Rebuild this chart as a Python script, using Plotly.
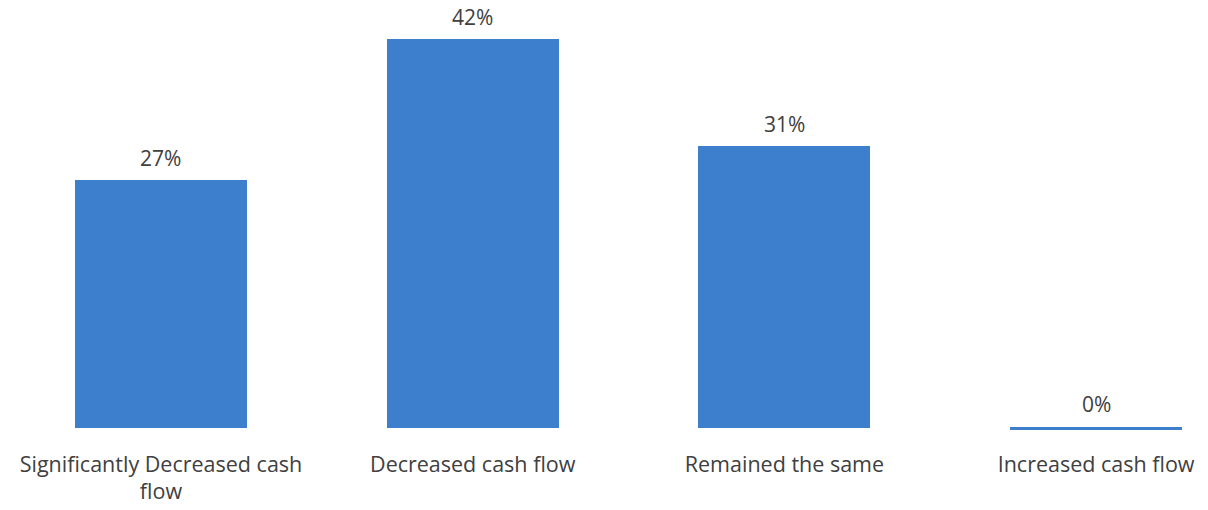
import plotly.graph_objects as go

categories = ["Significantly Decreased cash<br>flow", "Decreased cash flow", "Remained the same", "Increased cash flow"]
values = [26.9, 42.3, 30.6, 0.0]
labels = [f"{round(v):.0f}%" for v in values]

BAR_COLOR = "#3E7FCD"
TEXT_COLOR = "#404040"
FONT = "Open Sans"

fig = go.Figure()
fig.add_trace(go.Bar(
    x=list(range(len(categories))), y=values, width=0.552,
    marker=dict(color=BAR_COLOR, line=dict(width=0)),
    error_y=dict(type="data", array=[0] * len(values), visible=True,
                 color=BAR_COLOR, thickness=3, width=86),
    hoverinfo="skip", cliponaxis=False,
))

for i, (v, t) in enumerate(zip(values, labels)):
    fig.add_annotation(x=i, y=v, text=t, showarrow=False, yanchor="bottom",
                       yshift=8, font=dict(family=FONT, size=21, color=TEXT_COLOR))

fig.update_layout(
    width=1208, height=510,
    margin=dict(l=0, r=0, t=0, b=80),
    paper_bgcolor="white", plot_bgcolor="white",
    showlegend=False,
    bargap=0,
    xaxis=dict(range=[-0.5165, 3.359], tickmode="array", tickvals=list(range(len(categories))),
               ticktext=categories, showgrid=False, zeroline=False, showline=False,
               automargin=False, ticklabelstandoff=19,
               ticks="", tickfont=dict(family=FONT, size=21.5, color=TEXT_COLOR)),
    yaxis=dict(range=[-0.2175, 46.76], visible=False, showgrid=False, zeroline=False,
               automargin=False),
)

fig.write_html("out.html", config={"displayModeBar": False},
               post_script="document.body.style.margin='0';document.body.style.overflow='hidden';")
